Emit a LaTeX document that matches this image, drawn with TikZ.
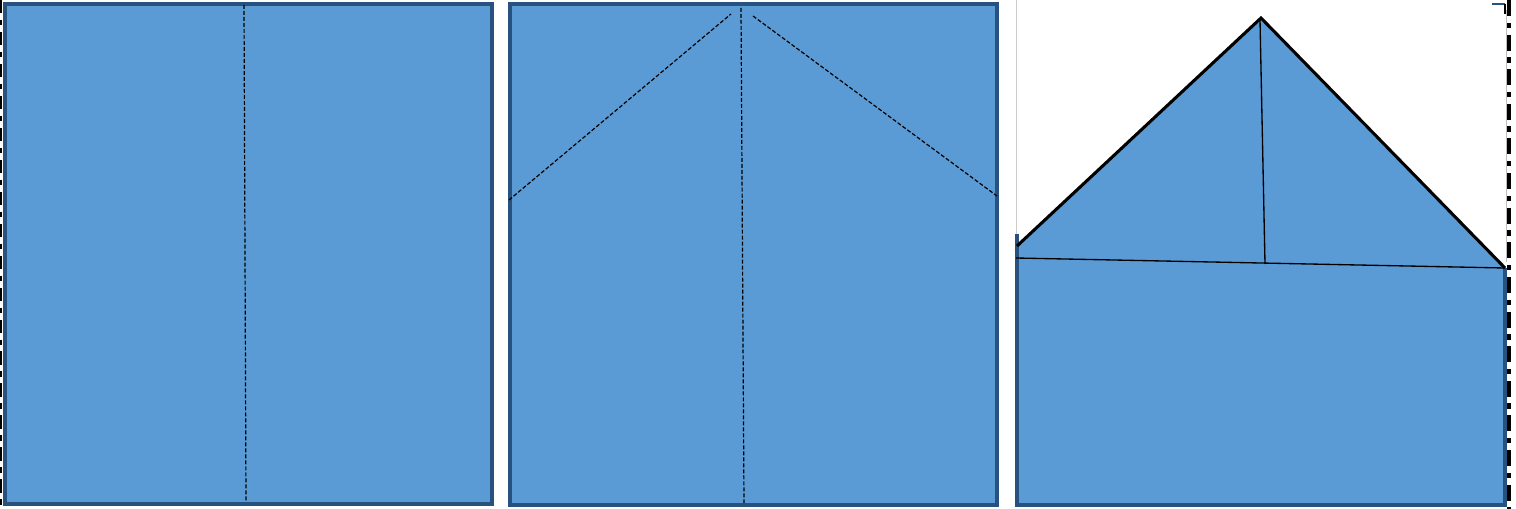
\documentclass[tikz,border=0pt]{standalone}
\definecolor{panelfill}{HTML}{5B9BD5}
\definecolor{paneledge}{HTML}{27527F}
\tikzset{
  panel/.style={fill=panelfill, draw=paneledge, line width=2.6pt},
  fold/.style={draw=black, dash pattern=on 3pt off 1.5pt, line width=0.9pt},
  crease/.style={draw=black, line width=1pt},
  roofedge/.style={draw=black, line width=2.3pt},
  cropmark/.style={draw=black, line width=3pt, dash pattern=on 12pt off 5pt on 4pt off 5pt},
}
\begin{document}
\begin{tikzpicture}[x=0.0264cm,y=-0.0264cm]
\useasboundingbox (0,0) rectangle (1516,509);
% left crop line
\draw[black, line width=2pt, dash pattern=on 10pt off 5pt on 4pt off 5pt] (1,0) -- (1,509);
% panel 1
\draw[panel] (5,4) rectangle (492,504);
\draw[fold] (244,5) -- (246,502);
% panel 2
\draw[panel] (510,4) rectangle (997,505);
\draw[fold] (741,8) -- (744,503);
\draw[fold] (509,200) -- (731,14);
\draw[fold] (753,16) -- (997,196);
% panel 3
\coordinate (L) at (1017,246);
\coordinate (A) at (1261,18);
\coordinate (R) at (1505,268);
\coordinate (BL) at (1017,505);
\coordinate (BR) at (1505,505);
\draw[gray!40, line width=0.5pt] (1016,0) -- (1016,235);
\fill[panelfill] (L) -- (A) -- (R) -- (BR) -- (BL) -- cycle;
\draw[paneledge, line width=2.6pt] (1017,234) -- (BL) -- (BR) -- (R);
\draw[roofedge] (L) -- (A) -- (R);
\draw[crease] (1016,258) -- (R);
\draw[crease] (1260,20) -- (1265,264);
% right crop line
\draw[gray!50, line width=0.5pt] (1506,10) -- (1506,262);
\draw[paneledge, line width=2pt] (1492,4) -- (1505,4);
\draw[black, line width=2pt] (1505,4) -- (1505,14);
\draw[cropmark] (1509,0) -- (1509,509);
\end{tikzpicture}
\end{document}
